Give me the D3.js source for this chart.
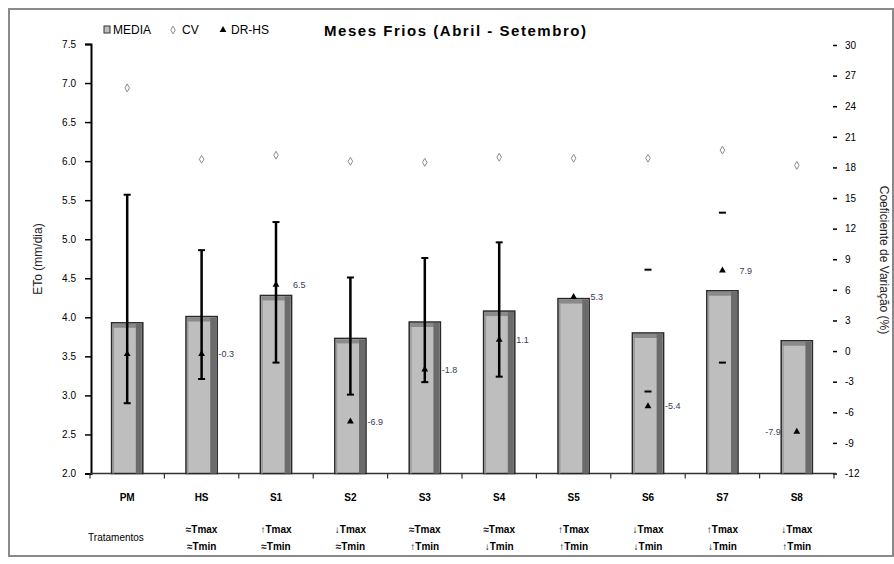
<!DOCTYPE html>
<html>
<head>
<meta charset="utf-8">
<script src="https://cdn.jsdelivr.net/npm/d3@7"></script>
<style>
  html, body { margin: 0; padding: 0; background: #fff; }
  svg { display: block; font-family: "Liberation Sans", Arial, sans-serif; }
</style>
</head>
<body>
<svg id="chart" width="894" height="564"></svg>
<script>
// Treatments and their temperature scenarios
const categories = ["PM", "HS", "S1", "S2", "S3", "S4", "S5", "S6", "S7", "S8"];
const tmaxLabels = ["", "≈Tmax", "↑Tmax", "↓Tmax", "≈Tmax", "≈Tmax", "↑Tmax", "↓Tmax", "↑Tmax", "↓Tmax"];
const tminLabels = ["", "≈Tmin", "≈Tmin", "≈Tmin", "↑Tmin", "↓Tmin", "↑Tmin", "↓Tmin", "↓Tmin", "↑Tmin"];

// Mean ETo (mm/dia), left axis
const media = [3.93, 4.01, 4.28, 3.73, 3.94, 4.08, 4.24, 3.80, 4.34, 3.70];
// Range bars (mm/dia), left axis
const errHigh = [5.57, 4.86, 5.22, 4.51, 4.76, 4.96, null, 4.61, 5.34, null];
const errLow  = [2.90, 3.21, 3.42, 3.01, 3.17, 3.24, null, 3.05, 3.42, null];
// Treatments whose range shows only the end marks
const capOnly = ["S6", "S7"];

// Coefficient of variation (%) and relative deviation (%), right axis
const cv = [25.8, 18.8, 19.2, 18.6, 18.5, 19.0, 18.9, 18.9, 19.7, 18.2];
const dr = [-0.3, -0.3, 6.5, -6.9, -1.8, 1.1, 5.3, -5.4, 7.9, -7.9];

// Axis ticks
const leftTicks = [2.0, 2.5, 3.0, 3.5, 4.0, 4.5, 5.0, 5.5, 6.0, 6.5, 7.0, 7.5];
const rightTicks = [30, 27, 24, 21, 18, 15, 12, 9, 6, 3, 0, -3, -6, -9, -12];

const fmt1 = v => d3.format(".1f")(v).replace("\u2212", "-");
const fmt0 = v => d3.format("d")(v).replace("\u2212", "-");

const svg = d3.select("#chart");

// outer frame
svg.append("rect")
  .attr("x", 9).attr("y", 9).attr("width", 884).attr("height", 547)
  .attr("fill", "#fff").attr("stroke", "#8a8a8a").attr("stroke-width", 2);

const plot = { left: 90, right: 834, top: 44, bottom: 473.5 };

const x = d3.scaleBand().domain(categories).range([plot.left, plot.right]).paddingInner(0.58).paddingOuter(0.29);
const yL = d3.scaleLinear().domain([2.0, 7.5]).range([plot.bottom, plot.top]);
const yR = d3.scaleLinear().domain([-12, 30]).range([plot.bottom, plot.top + 1]);
const band = d3.scaleBand().domain(categories).range([plot.left, plot.right]);

// left axis
const axL = svg.append("g").attr("transform", `translate(${plot.left + 1},0)`)
  .call(d3.axisLeft(yL).tickValues(leftTicks).tickFormat(fmt1).tickSize(6).tickPadding(9));
axL.select(".domain").attr("stroke", "#000").attr("stroke-width", 2);
axL.selectAll(".tick line").attr("stroke", "#000").attr("stroke-width", 1.5);
axL.selectAll(".tick text").attr("font-size", 10).attr("fill", "#000");

// right axis (ticks only)
const axR = svg.append("g").attr("transform", `translate(${plot.right - 1},0)`)
  .call(d3.axisRight(yR).tickValues(rightTicks).tickFormat(fmt0).tickSize(4).tickPadding(8));
axR.select(".domain").remove();
axR.selectAll(".tick line").attr("stroke", "#000").attr("stroke-width", 1.5);
axR.selectAll(".tick text").attr("font-size", 10).attr("fill", "#000");

// bottom axis
svg.append("line")
  .attr("x1", plot.left).attr("x2", plot.right + 2)
  .attr("y1", plot.bottom).attr("y2", plot.bottom)
  .attr("stroke", "#333").attr("stroke-width", 1.5);
svg.append("g").selectAll("line")
  .data(categories.concat(["end"]))
  .join("line")
  .attr("x1", (d, i) => plot.left + i * band.bandwidth())
  .attr("x2", (d, i) => plot.left + i * band.bandwidth())
  .attr("y1", plot.bottom).attr("y2", plot.bottom + 5)
  .attr("stroke", "#333").attr("stroke-width", 1.2);

// bars with bevelled shading
const bars = svg.append("g").selectAll("g").data(categories).join("g");
bars.append("rect")
  .attr("x", d => x(d)).attr("width", x.bandwidth())
  .attr("y", (d, i) => yL(media[i])).attr("height", (d, i) => yL(2) - yL(media[i]))
  .attr("fill", "#bebebe").attr("stroke", "#2a2a2a").attr("stroke-width", 1.5);
bars.append("rect")
  .attr("x", d => x(d) + 1).attr("width", x.bandwidth() - 2)
  .attr("y", (d, i) => yL(media[i]) + 1).attr("height", 4)
  .attr("fill", "#8a8a8a");
bars.append("rect")
  .attr("x", d => x(d) + x.bandwidth() - 7).attr("width", 6)
  .attr("y", (d, i) => yL(media[i]) + 1).attr("height", (d, i) => yL(2) - yL(media[i]) - 1)
  .attr("fill", "#6b6b6b");
bars.append("rect")
  .attr("x", d => x(d) + 1).attr("width", 1.5)
  .attr("y", (d, i) => yL(media[i]) + 5).attr("height", (d, i) => yL(2) - yL(media[i]) - 5)
  .attr("fill", "#9a9a9a");

// range bars
const cx = d => x(d) + x.bandwidth() / 2;
const rng = svg.append("g");
categories.forEach((c, i) => {
  if (errHigh[i] == null) return;
  if (!capOnly.includes(c)) {
    rng.append("line")
      .attr("x1", cx(c)).attr("x2", cx(c))
      .attr("y1", yL(errHigh[i])).attr("y2", yL(errLow[i]))
      .attr("stroke", "#000").attr("stroke-width", 2.5);
  }
  [errHigh[i], errLow[i]].forEach(v => {
    rng.append("line")
      .attr("x1", cx(c) - 3.5).attr("x2", cx(c) + 3.5)
      .attr("y1", yL(v)).attr("y2", yL(v))
      .attr("stroke", "#000").attr("stroke-width", 2);
  });
});

// CV markers (hollow diamonds)
svg.append("g").selectAll("path").data(categories).join("path")
  .attr("d", d3.symbol().type(d3.symbolDiamond).size(18))
  .attr("transform", (d, i) => `translate(${cx(d)},${yR(cv[i])})`)
  .attr("fill", "#fff").attr("stroke", "#8c8c8c").attr("stroke-width", 1);

// DR markers (triangles) with value labels
svg.append("g").selectAll("path").data(categories).join("path")
  .attr("d", d3.symbol().type(d3.symbolTriangle).size(20))
  .attr("transform", (d, i) => `translate(${cx(d)},${yR(dr[i])})`)
  .attr("fill", "#000");
svg.append("g").selectAll("text").data(categories.slice(1)).join("text")
  .attr("x", d => d === "S8" ? cx(d) - 16 : cx(d) + 17)
  .attr("y", d => yR(dr[categories.indexOf(d)]))
  .attr("dy", "0.35em")
  .attr("text-anchor", d => d === "S8" ? "end" : "start")
  .attr("font-size", 9).attr("fill", "#3a3a5a")
  .text(d => fmt1(dr[categories.indexOf(d)]));

// category labels
svg.append("g").selectAll("text").data(categories).join("text")
  .attr("x", d => cx(d)).attr("y", 497).attr("dy", "0.35em")
  .attr("text-anchor", "middle").attr("font-size", 10).attr("font-weight", "bold")
  .text(d => d);
svg.append("g").selectAll("text").data(categories).join("text")
  .attr("x", d => cx(d)).attr("y", 529).attr("dy", "0.35em")
  .attr("text-anchor", "middle").attr("font-size", 10).attr("font-weight", "bold")
  .text((d, i) => tmaxLabels[i]);
svg.append("g").selectAll("text").data(categories).join("text")
  .attr("x", d => cx(d)).attr("y", 546).attr("dy", "0.35em")
  .attr("text-anchor", "middle").attr("font-size", 10).attr("font-weight", "bold")
  .text((d, i) => tminLabels[i]);
svg.append("text")
  .attr("x", 116).attr("y", 537).attr("dy", "0.35em")
  .attr("text-anchor", "middle").attr("font-size", 10)
  .text("Tratamentos");

// axis titles
svg.append("text")
  .attr("transform", "translate(38,259) rotate(-90)")
  .attr("text-anchor", "middle").attr("dy", "0.35em")
  .attr("font-size", 12).attr("fill", "#222")
  .text("ETo (mm/dia)");
svg.append("text")
  .attr("transform", "translate(884,260) rotate(90)")
  .attr("text-anchor", "middle").attr("dy", "0.35em")
  .attr("font-size", 12).attr("fill", "#222")
  .text("Coeficiente de Variação (%)");

// title
svg.append("text")
  .attr("x", 455).attr("y", 31).attr("dy", "0.35em")
  .attr("text-anchor", "middle").attr("font-size", 15).attr("font-weight", "bold")
  .attr("textLength", 262).attr("lengthAdjust", "spacing")
  .text("Meses Frios (Abril - Setembro)");

// legend
const lg = svg.append("g").attr("font-size", 12);
lg.append("rect").attr("x", 104).attr("y", 26).attr("width", 6).attr("height", 7)
  .attr("fill", "#bebebe").attr("stroke", "#333");
lg.append("text").attr("x", 113).attr("y", 30).attr("dy", "0.35em").text("MEDIA");
lg.append("path").attr("d", d3.symbol().type(d3.symbolDiamond).size(18))
  .attr("transform", "translate(173,30)").attr("fill", "#fff").attr("stroke", "#8c8c8c");
lg.append("text").attr("x", 182).attr("y", 30).attr("dy", "0.35em").text("CV");
lg.append("path").attr("d", d3.symbol().type(d3.symbolTriangle).size(20))
  .attr("transform", "translate(223,30)").attr("fill", "#000");
lg.append("text").attr("x", 231).attr("y", 30).attr("dy", "0.35em").text("DR-HS");
</script>
</body>
</html>
